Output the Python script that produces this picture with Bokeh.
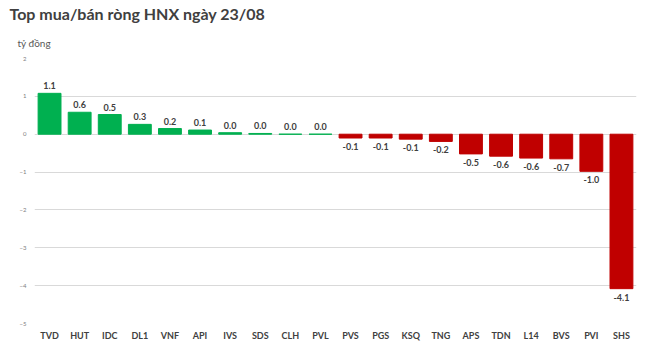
from bokeh.plotting import figure
from bokeh.models import ColumnDataSource, Range1d, FactorRange, Title, FixedTicker
from bokeh.embed import file_html
from bokeh.resources import INLINE
from bokeh.core.properties import value

tickers = ["TVD", "HUT", "IDC", "DL1", "VNF", "API", "IVS", "SDS", "CLH", "PVL",
           "PVS", "PGS", "KSQ", "TNG", "APS", "TDN", "L14", "BVS", "PVI", "SHS"]
values = [1.08, 0.58, 0.52, 0.26, 0.15, 0.11, 0.04, 0.02, 0.0, 0.0,
          -0.1, -0.1, -0.13, -0.19, -0.52, -0.58, -0.63, -0.65, -0.98, -4.08]
labels = ["1.1", "0.6", "0.5", "0.3", "0.2", "0.1", "0.0", "0.0", "0.0", "0.0",
          "-0.1", "-0.1", "-0.1", "-0.2", "-0.5", "-0.6", "-0.6", "-0.7", "-1.0", "-4.1"]
y_ticks = [2, 1, 0, -1, -2, -3, -4, -5]

GREEN = "#00B050"
RED = "#C00000"
colors = [GREEN if v >= 0 else RED for v in values]

src = ColumnDataSource(dict(x=tickers, top=values, color=colors, label=labels))
pos = ColumnDataSource(dict(x=[t for t, v in zip(tickers, values) if v >= 0],
                            y=[v for v in values if v >= 0],
                            label=[l for l, v in zip(labels, values) if v >= 0]))
neg = ColumnDataSource(dict(x=[t for t, v in zip(tickers, values) if v < 0],
                            y=[v for v in values if v < 0],
                            label=[l for l, v in zip(labels, values) if v < 0]))

FONT = "Lato"

p = figure(width=650, height=353, x_range=FactorRange(*tickers, range_padding=0),
           y_range=Range1d(-5, 2), output_backend="svg", toolbar_location=None,
           title=None, min_border_left=34, min_border_right=14, min_border_bottom=30,
           min_border_top=0)

p.add_layout(Title(text="tỷ đồng", text_font=FONT, text_font_size="10px",
                   text_font_style="normal", text_color="#595959", offset=-17,
                   standoff=20), "above")
p.add_layout(Title(text="Top mua/bán ròng HNX ngày 23/08", text_font=FONT,
                   text_font_size="16px", text_font_style="bold", text_color="#404040",
                   offset=-25, standoff=3), "above")

p.vbar(x="x", top="top", bottom=0, width=0.76, color="color", source=src)

p.text(x="x", y="y", text="label", source=pos, text_font=value(FONT),
       text_font_size="9px", text_font_style="bold", text_color="#404040",
       text_align="center", text_baseline="bottom", y_offset=-4)
p.text(x="x", y="y", text="label", source=neg, text_font=value(FONT),
       text_font_size="9px", text_font_style="bold", text_color="#404040",
       text_align="center", text_baseline="top", y_offset=5)

p.outline_line_color = None
p.xgrid.grid_line_color = None
p.ygrid.grid_line_color = "#D9D9D9"
p.ygrid.grid_line_width = 1

p.yaxis.ticker = FixedTicker(ticks=y_ticks)
p.yaxis.axis_line_color = None
p.yaxis.major_tick_line_color = None
p.yaxis.minor_tick_line_color = None
p.yaxis.major_label_text_font = FONT
p.yaxis.major_label_text_font_size = "6px"
p.yaxis.major_label_text_color = "#808080"
p.yaxis.major_label_standoff = 2

p.xaxis.axis_line_color = None
p.xaxis.major_tick_line_color = None
p.xaxis.minor_tick_line_color = None
p.xaxis.major_label_text_font = FONT
p.xaxis.major_label_text_font_size = "9px"
p.xaxis.major_label_text_font_style = "bold"
p.xaxis.major_label_text_color = "#404040"
p.xaxis.major_label_standoff = 0

open("out.html", "w").write(file_html(p, INLINE))
